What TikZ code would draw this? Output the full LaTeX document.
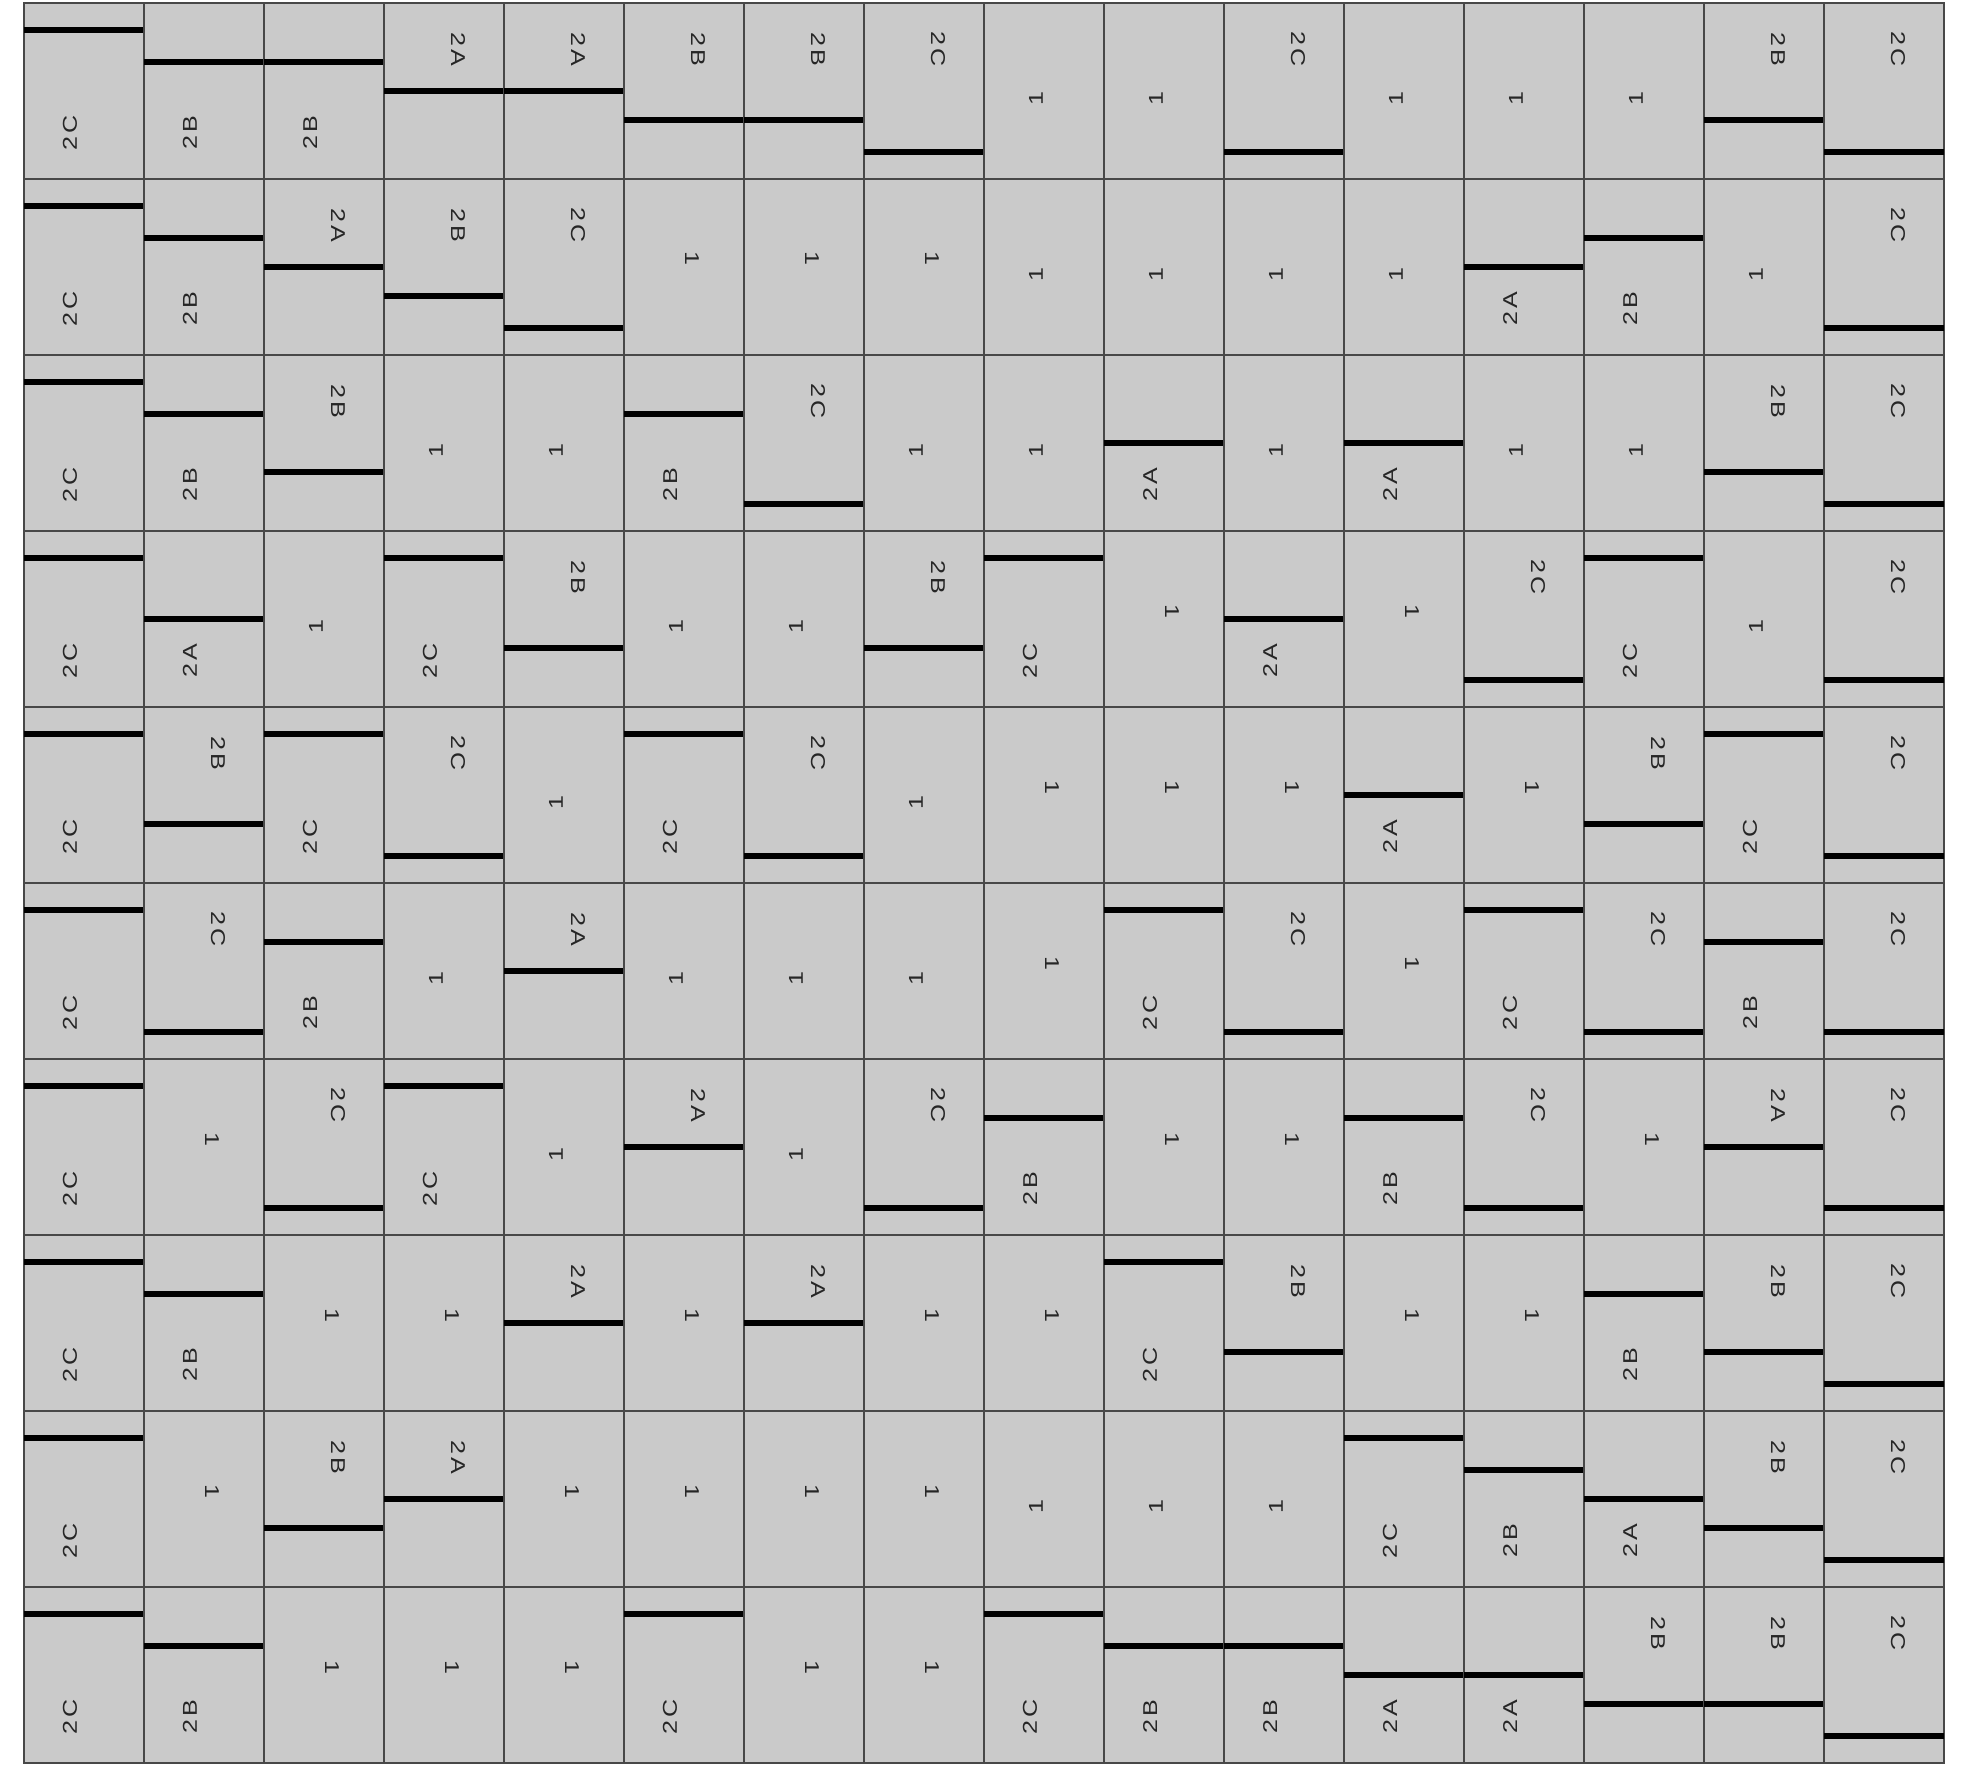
\documentclass[tikz,border=0pt]{standalone}
\usepackage{fontspec}
\setsansfont{Liberation Sans}
\usetikzlibrary{positioning}

\definecolor{tilegray}{RGB}{202,202,202}
\definecolor{edgegray}{RGB}{72,72,72}

\def\kindone{1}
% row, column, kind (1/A/B/C), angle
\newcommand{\placetile}[4]{%
  \edef\kind{#3}%
  \ifx\kind\kindone
    \pic[rotate=#4] (t#1-#2) at ({1.2*#2-0.36}, {18.50-1.76*#1}) {plain};
  \else
    \pic[rotate=#4] (t#1-#2) at ({1.2*#2-0.36}, {18.50-1.76*#1}) {tile=#3};
  \fi}

\begin{document}
\begin{tikzpicture}[
    box/.style={draw=edgegray, fill=tilegray, line width=0.5pt},
    bar/.style={line width=1.6pt, black},
    lbl/.style={font=\sffamily\fontsize{5.7}{7}\selectfont, text=black!85, inner sep=0pt},
    depth/A/.initial=0.88, depth/B/.initial=0.59, depth/C/.initial=0.27,
    pics/tile/.style={code={
        \draw[box] (-0.6,-0.88) rectangle (0.6,0.88);
        \draw[bar] (-0.6,{0.88-\pgfkeysvalueof{/tikz/depth/#1}}) -- (0.6,{0.88-\pgfkeysvalueof{/tikz/depth/#1}});
        \node[lbl, rotate=90, xscale=1.25, transform shape] (-lbl) at (-0.14,-0.42) {2\hspace{0.12em}#1};
    }},
    pics/plain/.style={code={
        \draw[box] (-0.6,-0.88) rectangle (0.6,0.88);
        \node[lbl, rotate=90, xscale=1.25, transform shape] (-lbl) at (-0.08,-0.08) {1};
    }}
]
\useasboundingbox (0,0) rectangle (19.84,17.65);

% ---- Row 1 ----
\foreach \c/\k/\ang in {1/C/0,2/B/0,3/B/0,4/A/180,5/A/180,6/B/180,7/B/180,8/C/180,
    9/1/0,10/1/0,11/C/180,12/1/0,13/1/0,14/1/0,15/B/180,16/C/180}
    {\placetile{1}{\c}{\k}{\ang}}

% ---- Row 2 ----
\foreach \c/\k/\ang in {1/C/0,2/B/0,3/A/180,4/B/180,5/C/180,6/1/180,7/1/180,8/1/180,
    9/1/0,10/1/0,11/1/0,12/1/0,13/A/0,14/B/0,15/1/0,16/C/180}
    {\placetile{2}{\c}{\k}{\ang}}

% ---- Row 3 ----
\foreach \c/\k/\ang in {1/C/0,2/B/0,3/B/180,4/1/0,5/1/0,6/B/0,7/C/180,8/1/0,
    9/1/0,10/A/0,11/1/0,12/A/0,13/1/0,14/1/0,15/B/180,16/C/180}
    {\placetile{3}{\c}{\k}{\ang}}

% ---- Row 4 ----
\foreach \c/\k/\ang in {1/C/0,2/A/0,3/1/0,4/C/0,5/B/180,6/1/0,7/1/0,8/B/180,
    9/C/0,10/1/180,11/A/0,12/1/180,13/C/180,14/C/0,15/1/0,16/C/180}
    {\placetile{4}{\c}{\k}{\ang}}

% ---- Row 5 ----
\foreach \c/\k/\ang in {1/C/0,2/B/180,3/C/0,4/C/180,5/1/0,6/C/0,7/C/180,8/1/0,
    9/1/180,10/1/180,11/1/180,12/A/0,13/1/180,14/B/180,15/C/0,16/C/180}
    {\placetile{5}{\c}{\k}{\ang}}

% ---- Row 6 ----
\foreach \c/\k/\ang in {1/C/0,2/C/180,3/B/0,4/1/0,5/A/180,6/1/0,7/1/0,8/1/0,
    9/1/180,10/C/0,11/C/180,12/1/180,13/C/0,14/C/180,15/B/0,16/C/180}
    {\placetile{6}{\c}{\k}{\ang}}

% ---- Row 7 ----
\foreach \c/\k/\ang in {1/C/0,2/1/180,3/C/180,4/C/0,5/1/0,6/A/180,7/1/0,8/C/180,
    9/B/0,10/1/180,11/1/180,12/B/0,13/C/180,14/1/180,15/A/180,16/C/180}
    {\placetile{7}{\c}{\k}{\ang}}

% ---- Row 8 ----
\foreach \c/\k/\ang in {1/C/0,2/B/0,3/1/180,4/1/180,5/A/180,6/1/180,7/A/180,8/1/180,
    9/1/180,10/C/0,11/B/180,12/1/180,13/1/180,14/B/0,15/B/180,16/C/180}
    {\placetile{8}{\c}{\k}{\ang}}

% ---- Row 9 ----
\foreach \c/\k/\ang in {1/C/0,2/1/180,3/B/180,4/A/180,5/1/180,6/1/180,7/1/180,8/1/180,
    9/1/0,10/1/0,11/1/0,12/C/0,13/B/0,14/A/0,15/B/180,16/C/180}
    {\placetile{9}{\c}{\k}{\ang}}

% ---- Row 10 ----
\foreach \c/\k/\ang in {1/C/0,2/B/0,3/1/180,4/1/180,5/1/180,6/C/0,7/1/180,8/1/180,
    9/C/0,10/B/0,11/B/0,12/A/0,13/A/0,14/B/180,15/B/180,16/C/180}
    {\placetile{10}{\c}{\k}{\ang}}

\end{tikzpicture}
\end{document}
